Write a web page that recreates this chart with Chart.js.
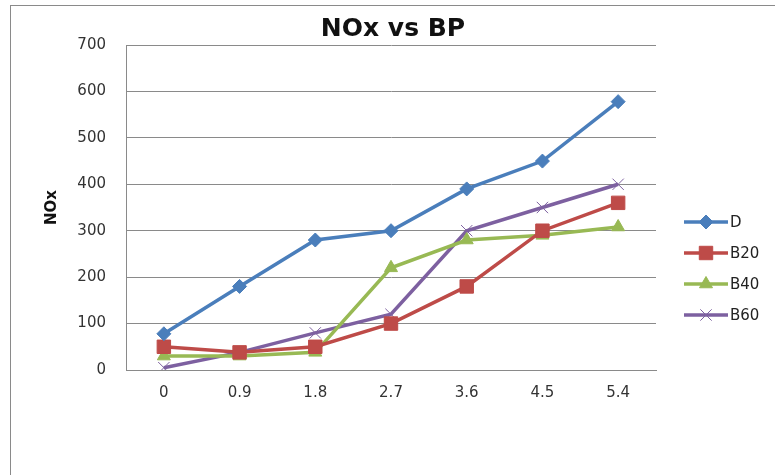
<!DOCTYPE html>
<html>
<head>
<meta charset="utf-8">
<script src="https://cdn.jsdelivr.net/npm/chart.js@4/dist/chart.umd.min.js"></script>
<style>
  body { margin: 0; background: #fff; }
  #wrap { width: 775px; height: 475px; }
</style>
</head>
<body>
<div id="wrap"><canvas id="myChart" width="775" height="475"></canvas></div>
<script>
var xlabel = ['0', '0.9', '1.8', '2.7', '3.6', '4.5', '5.4'];
var dVals   = [78, 180, 280, 300, 390, 450, 578];
var b20Vals = [50, 38, 50, 100, 180, 300, 360];
var b40Vals = [30, 30, 38, 220, 280, 290, 308];
var b60Vals = [5, 38, 80, 120, 300, 350, 400];
var seriesNames = ['D', 'B20', 'B40', 'B60'];
var chartTitle = 'NOx vs BP';
var yTitle = 'NOx';

var tickFont = { family: 'DejaVu Sans', size: 15 };

function makeSet(name, vals, color, shape, radius, bw) {
    return {
        label: name,
        data: vals,
        borderColor: color,
        backgroundColor: color,
        borderWidth: 3.5,
        pointStyle: shape,
        pointRadius: radius,
        pointBorderWidth: bw,
        pointBackgroundColor: color,
        pointBorderColor: color,
        tension: 0
    };
}

// frame, title and legend drawn by hand
var excelLook = {
    id: 'excelLook',
    beforeDraw: function (chart) {
        var ctx = chart.ctx;
        ctx.save();
        ctx.fillStyle = '#fff';
        ctx.fillRect(0, 0, chart.width, chart.height);
        ctx.strokeStyle = '#8a8a8a';
        ctx.lineWidth = 1;
        ctx.strokeRect(10.5, 5.5, 900, 600);
        ctx.restore();
    },
    afterDraw: function (chart) {
        var ctx = chart.ctx;
        var area = chart.chartArea;
        ctx.save();
        ctx.fillStyle = '#111';
        ctx.font = 'bold 25px "DejaVu Sans"';
        ctx.textAlign = 'center';
        ctx.textBaseline = 'middle';
        ctx.fillText(chartTitle, (area.left + area.right) / 2 + 2, 29);

        ctx.font = '15px "DejaVu Sans"';
        ctx.textAlign = 'left';
        var y = 222;
        chart.data.datasets.forEach(function (ds) {
            ctx.strokeStyle = ds.borderColor;
            ctx.lineWidth = 3.5;
            ctx.beginPath();
            ctx.moveTo(684, y);
            ctx.lineTo(728, y);
            ctx.stroke();
            ctx.fillStyle = ds.pointBackgroundColor;
            ctx.strokeStyle = ds.pointBorderColor;
            ctx.lineWidth = ds.pointBorderWidth;
            Chart.helpers.drawPoint(ctx, { pointStyle: ds.pointStyle, radius: ds.pointRadius, borderWidth: ds.pointBorderWidth }, 706, y);
            ctx.fillStyle = '#222';
            ctx.fillText(ds.label, 730, y + 1);
            y += 31;
        });
        ctx.restore();
    }
};

var ctx = document.getElementById('myChart').getContext('2d');
var chart = new Chart(ctx, {
    type: 'line',
    data: {
        labels: xlabel,
        datasets: [
            makeSet(seriesNames[0], dVals, '#4a7ebb', 'rectRot', 7, 1),
            makeSet(seriesNames[1], b20Vals, '#be4b48', 'rect', 9.5, 1),
            makeSet(seriesNames[2], b40Vals, '#98b954', 'triangle', 7.5, 1),
            makeSet(seriesNames[3], b60Vals, '#7d60a0', 'crossRot', 8, 1)
        ]
    },
    plugins: [excelLook],
    options: {
        responsive: false,
        animation: false,
        layout: { padding: { left: 38, top: 45, right: 119, bottom: 0 } },
        plugins: {
            legend: { display: false },
            title: { display: false },
            tooltip: { enabled: false }
        },
        scales: {
            x: {
                offset: true,
                grid: { display: false, drawTicks: false },
                border: { display: true, color: '#8a8a8a', width: 1 },
                ticks: { color: '#333', font: tickFont, padding: 14, maxRotation: 0 },
                afterFit: function (scale) { scale.height = 105; }
            },
            y: {
                min: 0,
                max: 700,
                ticks: { stepSize: 100, color: '#333', font: tickFont, padding: 20 },
                grid: { color: '#8a8a8a', lineWidth: 1, drawTicks: false },
                border: { display: true, color: '#8a8a8a', width: 1 },
                title: {
                    display: true,
                    text: yTitle,
                    color: '#111',
                    font: { family: 'DejaVu Sans', size: 15, weight: 'bold' },
                    padding: { top: 5, bottom: 0 }
                },
                afterFit: function (scale) { scale.width = 88; }
            }
        }
    }
});
</script>
</body>
</html>
